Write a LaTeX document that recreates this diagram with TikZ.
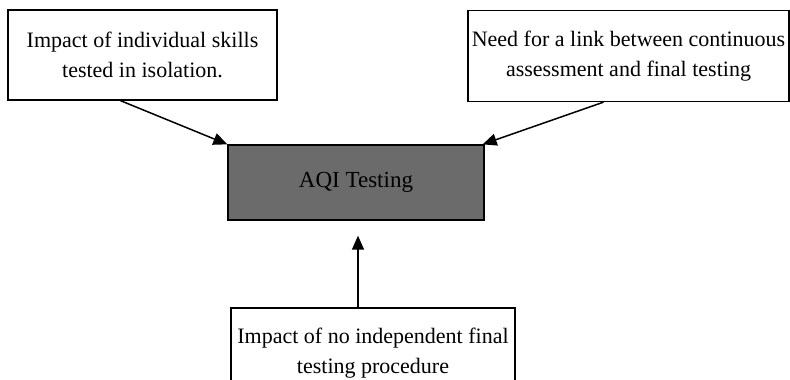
\documentclass[tikz,border=0pt]{standalone}
\usepackage{fontspec}
\setmainfont{Liberation Serif}
\usetikzlibrary{arrows.meta}

\begin{document}
\begin{tikzpicture}[x=1pt,y=-1pt,
  factor/.style={draw,line width=1.3pt,fill=white,align=center,font=\fontsize{22}{30}\selectfont,inner sep=0pt},
  core/.style={draw,line width=1.3pt,fill=black!58,align=center,font=\fontsize{23}{28}\selectfont,inner sep=0pt},
  link/.style={line width=1.5pt,-{Triangle[length=14pt,width=12pt]}}]
\useasboundingbox (0,0) rectangle (790,380);

% Central box
\node[core,minimum width=256pt,minimum height=75pt] (aqi) at (356,182.5) {AQI Testing};

% Influencing factors
\node[factor,minimum width=269pt,minimum height=90pt] (skills) at (142.5,55)
  {Impact of individual skills\\tested in isolation.};
\node[factor,minimum width=321pt,minimum height=91pt] (link) at (628.5,56)
  {Need for a link between continuous\\assessment and final testing};
\node[factor,minimum width=284pt,minimum height=90pt] (final) at (373,353)
  {Impact of no independent final\\testing procedure};

% Arrows
\draw[link] ([xshift=-22pt]skills.south) -- (aqi.north west);
\draw[link] ([xshift=-25pt]link.south) -- ([xshift=-2pt]aqi.north east);
\draw[link,shorten >=15pt] ([xshift=-15pt]final.north) -- ([xshift=-15pt]final.north |- aqi.south);
\end{tikzpicture}
\end{document}
